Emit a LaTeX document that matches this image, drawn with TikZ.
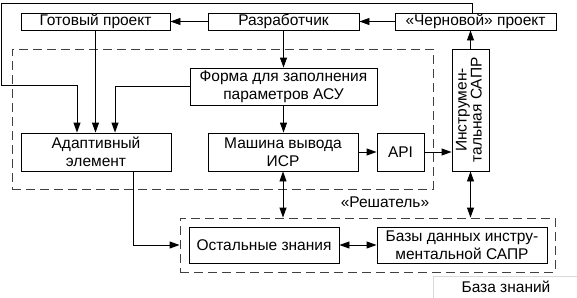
\documentclass[tikz,border=0pt]{standalone}
\usepackage{fontspec}
\setmainfont{Liberation Sans}
\usepackage{graphicx}
\usetikzlibrary{arrows.meta}
\begin{document}
\begin{tikzpicture}[x=1pt,y=-1pt,
  box/.style={draw,line width=0.9pt,inner sep=0pt,align=center,font=\fontsize{15.5}{18}\selectfont},
  dbox/.style={draw,line width=0.9pt,black!75,dash pattern=on 9pt off 5pt,inner sep=0pt},
  arr/.style={-{Triangle[length=10pt,width=7pt]},line width=0.9pt},
  darr/.style={{Triangle[length=10pt,width=7pt]}-{Triangle[length=10pt,width=7pt]},line width=0.9pt},
  lbl/.style={font=\fontsize{15.5}{18}\selectfont}]
\useasboundingbox (0,0) rectangle (577,297);
% dashed groups
\node[dbox,minimum width=421pt,minimum height=140pt] (solver) at (222.5,119) {};
\node[dbox,minimum width=375pt,minimum height=54pt] (kb) at (367.5,245) {};
% boxes
\node[box,minimum width=149pt,minimum height=17pt] (gp) at (95.5,21.5) {Готовый проект};
\node[box,minimum width=151pt,minimum height=17pt] (dev) at (283.5,21.5) {Разработчик};
\node[box,minimum width=161pt,minimum height=17pt] (draft) at (475.5,21.5) {«Черновой» проект};
\node[box,minimum width=187pt,minimum height=37pt] (form) at (283.5,86.5) {Форма для заполнения\\параметров АСУ};
\node[box,minimum width=150pt,minimum height=38pt] (adapt) at (96,152) {Адаптивный\\элемент};
\node[box,minimum width=150pt,minimum height=38pt] (mach) at (283,152) {Машина вывода\\ИСР};
\node[box,minimum width=47pt,minimum height=38pt] (api) at (400.5,152) {API};
\node[box,minimum width=37pt,minimum height=122pt] (instr) at (470.5,110) {\rotatebox{90}{\begin{tabular}{@{}c@{}}Инструмен-\\[-3pt]тальная САПР\end{tabular}}};
\node[box,minimum width=150pt,minimum height=36pt] (rest) at (264,245) {Остальные знания};
\node[box,minimum width=170pt,minimum height=36pt] (db) at (462,245) {Базы данных инстру-\\ментальной САПР};
% labels
\node[lbl] (solverlbl) at (385,202) {«Решатель»};
\node[lbl,draw=black!15,line width=0.8pt,minimum width=146pt,minimum height=22pt,inner sep=0pt] (kblbl) at (506,287) {База знаний};
% connectors
\draw[arr] (dev.west) -- (gp.east);
\draw[arr] (draft.west) -- (dev.east);
\draw[arr] (dev.south) -- (dev.south |- form.north);
\draw[arr] (form.south) -- (form.south |- mach.north);
\draw[arr] (mach.east) -- (api.west);
\draw[arr] (api.east) -- (api.east -| instr.west);
\draw[arr] (instr.north) -- (instr.north |- draft.south);
\coordinate (tr) at (472,3);
\coordinate (tl) at (1,3);
\coordinate (ml) at (1,85);
\draw[arr] (tr |- draft.north) -- (tr) -- (tl) -- (ml) -| ([xshift=-19pt]adapt.north);
\draw[arr] (gp.south) -- (gp.south |- adapt.north);
\draw[arr] (form.west) -| ([xshift=19pt]adapt.north);
\draw[arr] ([xshift=37pt]adapt.south) |- (kb.west);
\draw[darr] (mach.south) -- (mach.south |- kb.north);
\draw[darr] (instr.south) -- (instr.south |- kb.north);
\draw[darr] (rest.east) -- (db.west);
\end{tikzpicture}
\end{document}
